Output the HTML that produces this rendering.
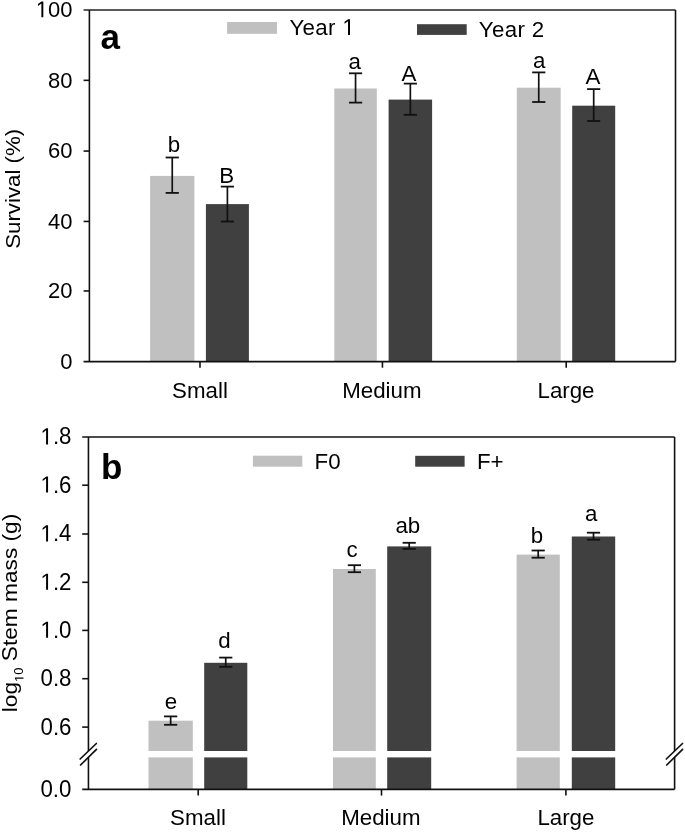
<!DOCTYPE html>
<html><head><meta charset="utf-8"><style>
html,body{margin:0;padding:0;background:#fff;}
svg{display:block;filter:grayscale(1) blur(0.3px);}
text{font-family:"Liberation Sans", sans-serif;fill:#000;}
</style></head><body>
<svg width="685" height="832" viewBox="0 0 685 832">
<rect width="685" height="832" fill="#fff"/>
<rect x="150.1" y="175.9" width="44.3" height="185.7" fill="#c0c0c0"/>
<rect x="205.9" y="204.1" width="43.0" height="157.5" fill="#404040"/>
<rect x="334.3" y="88.5" width="42.5" height="273.1" fill="#c0c0c0"/>
<rect x="388.6" y="99.6" width="43.5" height="262.0" fill="#404040"/>
<rect x="516.8" y="87.7" width="43.9" height="273.9" fill="#c0c0c0"/>
<rect x="572.2" y="105.7" width="43.0" height="255.9" fill="#404040"/>
<line x1="172.25" y1="157.5" x2="172.25" y2="192.9" stroke="#111" stroke-width="1.7" stroke-linecap="butt"/>
<line x1="165.65" y1="157.5" x2="178.85" y2="157.5" stroke="#111" stroke-width="1.8" stroke-linecap="butt"/>
<line x1="165.65" y1="192.9" x2="178.85" y2="192.9" stroke="#111" stroke-width="1.8" stroke-linecap="butt"/>
<line x1="227.4" y1="186.6" x2="227.4" y2="221.5" stroke="#111" stroke-width="1.7" stroke-linecap="butt"/>
<line x1="220.8" y1="186.6" x2="234.0" y2="186.6" stroke="#111" stroke-width="1.8" stroke-linecap="butt"/>
<line x1="220.8" y1="221.5" x2="234.0" y2="221.5" stroke="#111" stroke-width="1.8" stroke-linecap="butt"/>
<line x1="355.55" y1="73.3" x2="355.55" y2="102.6" stroke="#111" stroke-width="1.7" stroke-linecap="butt"/>
<line x1="348.95" y1="73.3" x2="362.15000000000003" y2="73.3" stroke="#111" stroke-width="1.8" stroke-linecap="butt"/>
<line x1="348.95" y1="102.6" x2="362.15000000000003" y2="102.6" stroke="#111" stroke-width="1.8" stroke-linecap="butt"/>
<line x1="410.35" y1="83.6" x2="410.35" y2="114.8" stroke="#111" stroke-width="1.7" stroke-linecap="butt"/>
<line x1="403.75" y1="83.6" x2="416.95000000000005" y2="83.6" stroke="#111" stroke-width="1.8" stroke-linecap="butt"/>
<line x1="403.75" y1="114.8" x2="416.95000000000005" y2="114.8" stroke="#111" stroke-width="1.8" stroke-linecap="butt"/>
<line x1="538.75" y1="72.4" x2="538.75" y2="102.0" stroke="#111" stroke-width="1.7" stroke-linecap="butt"/>
<line x1="532.15" y1="72.4" x2="545.35" y2="72.4" stroke="#111" stroke-width="1.8" stroke-linecap="butt"/>
<line x1="532.15" y1="102.0" x2="545.35" y2="102.0" stroke="#111" stroke-width="1.8" stroke-linecap="butt"/>
<line x1="593.7" y1="89.1" x2="593.7" y2="121.0" stroke="#111" stroke-width="1.7" stroke-linecap="butt"/>
<line x1="587.1" y1="89.1" x2="600.3000000000001" y2="89.1" stroke="#111" stroke-width="1.8" stroke-linecap="butt"/>
<line x1="587.1" y1="121.0" x2="600.3000000000001" y2="121.0" stroke="#111" stroke-width="1.8" stroke-linecap="butt"/>
<line x1="83.6" y1="10.0" x2="675.5" y2="10.0" stroke="#222" stroke-width="1.4" stroke-linecap="butt"/>
<line x1="675.5" y1="10.0" x2="675.5" y2="361.6" stroke="#111" stroke-width="1.6" stroke-linecap="butt"/>
<line x1="83.6" y1="361.6" x2="675.5" y2="361.6" stroke="#111" stroke-width="1.6" stroke-linecap="butt"/>
<line x1="89.4" y1="10.0" x2="89.4" y2="361.6" stroke="#111" stroke-width="1.6" stroke-linecap="butt"/>
<line x1="83.6" y1="290.96" x2="89.4" y2="290.96" stroke="#111" stroke-width="1.6" stroke-linecap="butt"/>
<line x1="83.6" y1="221.44" x2="89.4" y2="221.44" stroke="#111" stroke-width="1.6" stroke-linecap="butt"/>
<line x1="83.6" y1="151.06" x2="89.4" y2="151.06" stroke="#111" stroke-width="1.6" stroke-linecap="butt"/>
<line x1="83.6" y1="80.34" x2="89.4" y2="80.34" stroke="#111" stroke-width="1.6" stroke-linecap="butt"/>
<line x1="200.0" y1="361.6" x2="200.0" y2="367.7" stroke="#111" stroke-width="1.6" stroke-linecap="butt"/>
<line x1="382.45" y1="361.6" x2="382.45" y2="367.7" stroke="#111" stroke-width="1.6" stroke-linecap="butt"/>
<line x1="566.2" y1="361.6" x2="566.2" y2="367.7" stroke="#111" stroke-width="1.6" stroke-linecap="butt"/>
<g transform="translate(72.6,368.9)"><text id="t1" x="0" y="0" text-anchor="end" font-size="22.0" font-weight="normal" ><tspan fill="transparent">0</tspan></text><text transform="translate(-12.25,0.00) scale(1,1.04)" font-size="22" aria-hidden="true">0</text></g>
<g transform="translate(72.6,298.26)"><text id="t2" x="0" y="0" text-anchor="end" font-size="22.0" font-weight="normal" ><tspan fill="transparent">2</tspan><tspan fill="transparent">0</tspan></text><text transform="translate(-24.50,0.00) scale(1,1.04)" font-size="22" aria-hidden="true">2</text><text transform="translate(-12.25,0.00) scale(1,1.04)" font-size="22" aria-hidden="true">0</text></g>
<g transform="translate(72.6,228.74)"><text id="t3" x="0" y="0" text-anchor="end" font-size="22.0" font-weight="normal" ><tspan fill="transparent">4</tspan><tspan fill="transparent">0</tspan></text><text transform="translate(-24.50,0.00) scale(1,1.04)" font-size="22" aria-hidden="true">4</text><text transform="translate(-12.25,0.00) scale(1,1.04)" font-size="22" aria-hidden="true">0</text></g>
<g transform="translate(72.6,158.36)"><text id="t4" x="0" y="0" text-anchor="end" font-size="22.0" font-weight="normal" ><tspan fill="transparent">6</tspan><tspan fill="transparent">0</tspan></text><text transform="translate(-24.50,0.00) scale(1,1.04)" font-size="22" aria-hidden="true">6</text><text transform="translate(-12.25,0.00) scale(1,1.04)" font-size="22" aria-hidden="true">0</text></g>
<g transform="translate(72.6,87.64)"><text id="t5" x="0" y="0" text-anchor="end" font-size="22.0" font-weight="normal" ><tspan fill="transparent">8</tspan><tspan fill="transparent">0</tspan></text><text transform="translate(-24.50,0.00) scale(1,1.04)" font-size="22" aria-hidden="true">8</text><text transform="translate(-12.25,0.00) scale(1,1.04)" font-size="22" aria-hidden="true">0</text></g>
<g transform="translate(72.6,17.3)"><text id="t6" x="0" y="0" text-anchor="end" font-size="22.0" font-weight="normal" ><tspan fill="transparent">1</tspan><tspan fill="transparent">0</tspan><tspan fill="transparent">0</tspan></text><path d="M515 0V1237L197 1010V1180L530 1409H696V0Z" transform="translate(-36.75,0.00) scale(0.01074,-0.01117)"/><text transform="translate(-24.50,0.00) scale(1,1.04)" font-size="22" aria-hidden="true">0</text><text transform="translate(-12.25,0.00) scale(1,1.04)" font-size="22" aria-hidden="true">0</text></g>
<g transform="translate(200.0,397.6)"><text id="t7" x="0" y="0" text-anchor="middle" font-size="22.3" font-weight="normal" ><tspan fill="transparent">S</tspan>mall</text><text transform="translate(-27.88,0.00) scale(1,1.025)" font-size="22.3" aria-hidden="true">S</text></g>
<g transform="translate(381.9,397.6)"><text id="t8" x="0" y="0" text-anchor="middle" font-size="22.3" font-weight="normal" ><tspan fill="transparent">M</tspan>edium</text><text transform="translate(-39.66,0.00) scale(1,1.025)" font-size="22.3" aria-hidden="true">M</text></g>
<g transform="translate(566.0,397.6)"><text id="t9" x="0" y="0" text-anchor="middle" font-size="22.3" font-weight="normal" ><tspan fill="transparent">L</tspan>arge</text><text transform="translate(-28.52,0.00) scale(1,1.025)" font-size="22.3" aria-hidden="true">L</text></g>
<g transform="translate(20.3,188.8) rotate(-90) scale(1,0.92)"><text id="t10" x="0" y="0" text-anchor="middle" font-size="22.3" font-weight="normal" ><tspan fill="transparent">S</tspan>urvival (%)</text><text transform="translate(-60.05,0.00) scale(1,1.025)" font-size="22.3" aria-hidden="true">S</text></g>
<g transform="translate(100.6,48.6)"><text id="t11" x="0" y="0" text-anchor="start" font-size="35" font-weight="bold" >a</text></g>
<rect x="227.1" y="22.0" width="49.9" height="11.8" fill="#c0c0c0"/>
<g transform="translate(289.4,35.0)"><text id="t12" x="0" y="0" text-anchor="start" font-size="22.3" font-weight="normal" letter-spacing="0.35"><tspan fill="transparent">Y</tspan>ear <tspan fill="transparent">1</tspan></text><text transform="translate(0.00,0.00) scale(1,1.025)" font-size="22.3" aria-hidden="true">Y</text><path d="M515 0V1237L197 1010V1180L530 1409H696V0Z" transform="translate(53.02,0.00) scale(0.01089,-0.01116)"/></g>
<rect x="417.0" y="24.2" width="49.7" height="10.7" fill="#404040"/>
<g transform="translate(478.7,37.0)"><text id="t13" x="0" y="0" text-anchor="start" font-size="22.3" font-weight="normal" letter-spacing="0.35"><tspan fill="transparent">Y</tspan>ear <tspan fill="transparent">2</tspan></text><text transform="translate(0.00,0.00) scale(1,1.025)" font-size="22.3" aria-hidden="true">Y</text><text transform="translate(53.02,0.00) scale(1,1.025)" font-size="22.3" aria-hidden="true">2</text></g>
<g transform="translate(174.0,151.6)"><text id="t14" x="0" y="0" text-anchor="middle" font-size="22.3" font-weight="normal" >b</text></g>
<g transform="translate(226.7,182.8)"><text id="t15" x="0" y="0" text-anchor="middle" font-size="22.3" font-weight="normal" ><tspan fill="transparent">B</tspan></text><text transform="translate(-7.44,0.00) scale(1,1.025)" font-size="22.3" aria-hidden="true">B</text></g>
<g transform="translate(354.6,69.0)"><text id="t16" x="0" y="0" text-anchor="middle" font-size="22.3" font-weight="normal" >a</text></g>
<g transform="translate(409.0,81.0)"><text id="t17" x="0" y="0" text-anchor="middle" font-size="22.3" font-weight="normal" ><tspan fill="transparent">A</tspan></text><text transform="translate(-7.44,0.00) scale(1,1.025)" font-size="22.3" aria-hidden="true">A</text></g>
<g transform="translate(539.3,67.5)"><text id="t18" x="0" y="0" text-anchor="middle" font-size="22.3" font-weight="normal" >a</text></g>
<g transform="translate(593.0,84.0)"><text id="t19" x="0" y="0" text-anchor="middle" font-size="22.3" font-weight="normal" ><tspan fill="transparent">A</tspan></text><text transform="translate(-7.44,0.00) scale(1,1.025)" font-size="22.3" aria-hidden="true">A</text></g>
<rect x="148.5" y="720.7" width="44.3" height="30.3" fill="#c0c0c0"/>
<rect x="148.5" y="757.4" width="44.3" height="32.0" fill="#c0c0c0"/>
<rect x="204.2" y="662.8" width="43.1" height="88.2" fill="#404040"/>
<rect x="204.2" y="757.4" width="43.1" height="32.0" fill="#404040"/>
<rect x="333.0" y="569.0" width="42.8" height="182.0" fill="#c0c0c0"/>
<rect x="333.0" y="757.4" width="42.8" height="32.0" fill="#c0c0c0"/>
<rect x="387.2" y="546.4" width="44.0" height="204.6" fill="#404040"/>
<rect x="387.2" y="757.4" width="44.0" height="32.0" fill="#404040"/>
<rect x="516.6" y="554.6" width="43.2" height="196.4" fill="#c0c0c0"/>
<rect x="516.6" y="757.4" width="43.2" height="32.0" fill="#c0c0c0"/>
<rect x="571.8" y="536.5" width="43.4" height="214.5" fill="#404040"/>
<rect x="571.8" y="757.4" width="43.4" height="32.0" fill="#404040"/>
<line x1="170.65" y1="716.4" x2="170.65" y2="724.8" stroke="#111" stroke-width="1.7" stroke-linecap="butt"/>
<line x1="164.05" y1="716.4" x2="177.25" y2="716.4" stroke="#111" stroke-width="1.8" stroke-linecap="butt"/>
<line x1="164.05" y1="724.8" x2="177.25" y2="724.8" stroke="#111" stroke-width="1.8" stroke-linecap="butt"/>
<line x1="225.75" y1="657.6" x2="225.75" y2="666.8" stroke="#111" stroke-width="1.7" stroke-linecap="butt"/>
<line x1="219.15" y1="657.6" x2="232.35" y2="657.6" stroke="#111" stroke-width="1.8" stroke-linecap="butt"/>
<line x1="219.15" y1="666.8" x2="232.35" y2="666.8" stroke="#111" stroke-width="1.8" stroke-linecap="butt"/>
<line x1="354.4" y1="565.2" x2="354.4" y2="572.2" stroke="#111" stroke-width="1.7" stroke-linecap="butt"/>
<line x1="347.79999999999995" y1="565.2" x2="361.0" y2="565.2" stroke="#111" stroke-width="1.8" stroke-linecap="butt"/>
<line x1="347.79999999999995" y1="572.2" x2="361.0" y2="572.2" stroke="#111" stroke-width="1.8" stroke-linecap="butt"/>
<line x1="409.2" y1="542.8" x2="409.2" y2="548.9" stroke="#111" stroke-width="1.7" stroke-linecap="butt"/>
<line x1="402.59999999999997" y1="542.8" x2="415.8" y2="542.8" stroke="#111" stroke-width="1.8" stroke-linecap="butt"/>
<line x1="402.59999999999997" y1="548.9" x2="415.8" y2="548.9" stroke="#111" stroke-width="1.8" stroke-linecap="butt"/>
<line x1="538.2" y1="550.5" x2="538.2" y2="557.7" stroke="#111" stroke-width="1.7" stroke-linecap="butt"/>
<line x1="531.6" y1="550.5" x2="544.8000000000001" y2="550.5" stroke="#111" stroke-width="1.8" stroke-linecap="butt"/>
<line x1="531.6" y1="557.7" x2="544.8000000000001" y2="557.7" stroke="#111" stroke-width="1.8" stroke-linecap="butt"/>
<line x1="593.5" y1="532.7" x2="593.5" y2="539.7" stroke="#111" stroke-width="1.7" stroke-linecap="butt"/>
<line x1="586.9" y1="532.7" x2="600.1" y2="532.7" stroke="#111" stroke-width="1.8" stroke-linecap="butt"/>
<line x1="586.9" y1="539.7" x2="600.1" y2="539.7" stroke="#111" stroke-width="1.8" stroke-linecap="butt"/>
<line x1="82.2" y1="437.0" x2="674.6" y2="437.0" stroke="#111" stroke-width="1.6" stroke-linecap="butt"/>
<line x1="82.2" y1="789.4" x2="674.6" y2="789.4" stroke="#111" stroke-width="1.6" stroke-linecap="butt"/>
<line x1="88.45" y1="437.0" x2="88.45" y2="751.0" stroke="#111" stroke-width="1.6" stroke-linecap="butt"/>
<line x1="88.45" y1="757.4" x2="88.45" y2="789.4" stroke="#111" stroke-width="1.6" stroke-linecap="butt"/>
<line x1="674.6" y1="437.0" x2="674.6" y2="751.0" stroke="#111" stroke-width="1.6" stroke-linecap="butt"/>
<line x1="674.6" y1="757.4" x2="674.6" y2="789.4" stroke="#111" stroke-width="1.6" stroke-linecap="butt"/>
<line x1="80.15" y1="759.0" x2="96.35" y2="743.5" stroke="#111" stroke-width="1.7" stroke-linecap="round"/>
<line x1="80.55" y1="765.0" x2="96.45" y2="749.3" stroke="#111" stroke-width="1.7" stroke-linecap="round"/>
<line x1="666.3" y1="759.0" x2="682.5" y2="743.5" stroke="#111" stroke-width="1.7" stroke-linecap="round"/>
<line x1="666.7" y1="765.0" x2="682.6" y2="749.3" stroke="#111" stroke-width="1.7" stroke-linecap="round"/>
<line x1="82.2" y1="485.2" x2="88.45" y2="485.2" stroke="#111" stroke-width="1.6" stroke-linecap="butt"/>
<line x1="82.2" y1="534.0" x2="88.45" y2="534.0" stroke="#111" stroke-width="1.6" stroke-linecap="butt"/>
<line x1="82.2" y1="582.3" x2="88.45" y2="582.3" stroke="#111" stroke-width="1.6" stroke-linecap="butt"/>
<line x1="82.2" y1="630.4" x2="88.45" y2="630.4" stroke="#111" stroke-width="1.6" stroke-linecap="butt"/>
<line x1="82.2" y1="678.7" x2="88.45" y2="678.7" stroke="#111" stroke-width="1.6" stroke-linecap="butt"/>
<line x1="82.2" y1="727.1" x2="88.45" y2="727.1" stroke="#111" stroke-width="1.6" stroke-linecap="butt"/>
<line x1="198.2" y1="789.4" x2="198.2" y2="795.6" stroke="#111" stroke-width="1.6" stroke-linecap="butt"/>
<line x1="381.5" y1="789.4" x2="381.5" y2="795.6" stroke="#111" stroke-width="1.6" stroke-linecap="butt"/>
<line x1="565.9" y1="789.4" x2="565.9" y2="795.6" stroke="#111" stroke-width="1.6" stroke-linecap="butt"/>
<g transform="translate(71.5,444.4)"><text id="t20" x="0" y="0" text-anchor="end" font-size="22.3" font-weight="normal" ><tspan fill="transparent">1</tspan>.<tspan fill="transparent">8</tspan></text><path d="M515 0V1237L197 1010V1180L530 1409H696V0Z" transform="translate(-31.02,0.00) scale(0.01089,-0.01138)"/><text transform="translate(-12.41,0.00) scale(1,1.045)" font-size="22.3" aria-hidden="true">8</text></g>
<g transform="translate(71.5,492.6)"><text id="t21" x="0" y="0" text-anchor="end" font-size="22.3" font-weight="normal" ><tspan fill="transparent">1</tspan>.<tspan fill="transparent">6</tspan></text><path d="M515 0V1237L197 1010V1180L530 1409H696V0Z" transform="translate(-31.02,0.00) scale(0.01089,-0.01138)"/><text transform="translate(-12.41,0.00) scale(1,1.045)" font-size="22.3" aria-hidden="true">6</text></g>
<g transform="translate(71.5,541.4)"><text id="t22" x="0" y="0" text-anchor="end" font-size="22.3" font-weight="normal" ><tspan fill="transparent">1</tspan>.<tspan fill="transparent">4</tspan></text><path d="M515 0V1237L197 1010V1180L530 1409H696V0Z" transform="translate(-31.02,0.00) scale(0.01089,-0.01138)"/><text transform="translate(-12.41,0.00) scale(1,1.045)" font-size="22.3" aria-hidden="true">4</text></g>
<g transform="translate(71.5,589.7)"><text id="t23" x="0" y="0" text-anchor="end" font-size="22.3" font-weight="normal" ><tspan fill="transparent">1</tspan>.<tspan fill="transparent">2</tspan></text><path d="M515 0V1237L197 1010V1180L530 1409H696V0Z" transform="translate(-31.02,0.00) scale(0.01089,-0.01138)"/><text transform="translate(-12.41,0.00) scale(1,1.045)" font-size="22.3" aria-hidden="true">2</text></g>
<g transform="translate(71.5,637.8)"><text id="t24" x="0" y="0" text-anchor="end" font-size="22.3" font-weight="normal" ><tspan fill="transparent">1</tspan>.<tspan fill="transparent">0</tspan></text><path d="M515 0V1237L197 1010V1180L530 1409H696V0Z" transform="translate(-31.02,0.00) scale(0.01089,-0.01138)"/><text transform="translate(-12.41,0.00) scale(1,1.045)" font-size="22.3" aria-hidden="true">0</text></g>
<g transform="translate(71.5,686.1)"><text id="t25" x="0" y="0" text-anchor="end" font-size="22.3" font-weight="normal" ><tspan fill="transparent">0</tspan>.<tspan fill="transparent">8</tspan></text><text transform="translate(-31.02,0.00) scale(1,1.045)" font-size="22.3" aria-hidden="true">0</text><text transform="translate(-12.41,0.00) scale(1,1.045)" font-size="22.3" aria-hidden="true">8</text></g>
<g transform="translate(71.5,734.5)"><text id="t26" x="0" y="0" text-anchor="end" font-size="22.3" font-weight="normal" ><tspan fill="transparent">0</tspan>.<tspan fill="transparent">6</tspan></text><text transform="translate(-31.02,0.00) scale(1,1.045)" font-size="22.3" aria-hidden="true">0</text><text transform="translate(-12.41,0.00) scale(1,1.045)" font-size="22.3" aria-hidden="true">6</text></g>
<g transform="translate(71.4,796.8)"><text id="t27" x="0" y="0" text-anchor="end" font-size="22.3" font-weight="normal" ><tspan fill="transparent">0</tspan>.<tspan fill="transparent">0</tspan></text><text transform="translate(-31.02,0.00) scale(1,1.045)" font-size="22.3" aria-hidden="true">0</text><text transform="translate(-12.41,0.00) scale(1,1.045)" font-size="22.3" aria-hidden="true">0</text></g>
<g transform="translate(198.0,825.3)"><text id="t28" x="0" y="0" text-anchor="middle" font-size="22.3" font-weight="normal" ><tspan fill="transparent">S</tspan>mall</text><text transform="translate(-27.88,0.00) scale(1,1.025)" font-size="22.3" aria-hidden="true">S</text></g>
<g transform="translate(380.9,825.3)"><text id="t29" x="0" y="0" text-anchor="middle" font-size="22.3" font-weight="normal" ><tspan fill="transparent">M</tspan>edium</text><text transform="translate(-39.66,0.00) scale(1,1.025)" font-size="22.3" aria-hidden="true">M</text></g>
<g transform="translate(565.9,825.3)"><text id="t30" x="0" y="0" text-anchor="middle" font-size="22.3" font-weight="normal" ><tspan fill="transparent">L</tspan>arge</text><text transform="translate(-28.52,0.00) scale(1,1.025)" font-size="22.3" aria-hidden="true">L</text></g>
<g transform="translate(17.0,613.0) rotate(-90) scale(1,0.92)"><text id="t31" x="0" y="0" text-anchor="middle" font-size="22.7" font-weight="normal" >log<tspan font-size="13" dy="7"><tspan fill="transparent">1</tspan><tspan fill="transparent">0</tspan></tspan><tspan dy="-7"> <tspan fill="transparent">S</tspan>tem mass (g)</tspan></text><path d="M515 0V1237L197 1010V1180L530 1409H696V0Z" transform="translate(-69.00,7.00) scale(0.00635,-0.00651)"/><text transform="translate(-61.76,7.00) scale(1,1.025)" font-size="13" aria-hidden="true">0</text><text transform="translate(-48.22,0.00) scale(1,1.025)" font-size="22.7" aria-hidden="true">S</text></g>
<g transform="translate(100.9,478.5)"><text id="t32" x="0" y="0" text-anchor="start" font-size="35" font-weight="bold" >b</text></g>
<rect x="252.9" y="455.7" width="49.4" height="11.0" fill="#c0c0c0"/>
<g transform="translate(314.6,468.6)"><text id="t33" x="0" y="0" text-anchor="start" font-size="22.3" font-weight="normal" ><tspan fill="transparent">F</tspan><tspan fill="transparent">0</tspan></text><text transform="translate(0.00,0.00) scale(1,1.025)" font-size="22.3" aria-hidden="true">F</text><text transform="translate(13.62,0.00) scale(1,1.025)" font-size="22.3" aria-hidden="true">0</text></g>
<rect x="415.2" y="455.8" width="49.4" height="10.9" fill="#404040"/>
<g transform="translate(476.9,468.6)"><text id="t34" x="0" y="0" text-anchor="start" font-size="22.3" font-weight="normal" ><tspan fill="transparent">F</tspan>+</text><text transform="translate(0.00,0.00) scale(1,1.025)" font-size="22.3" aria-hidden="true">F</text></g>
<g transform="translate(171.0,708.5)"><text id="t35" x="0" y="0" text-anchor="middle" font-size="22.3" font-weight="normal" >e</text></g>
<g transform="translate(224.5,648.4)"><text id="t36" x="0" y="0" text-anchor="middle" font-size="22.3" font-weight="normal" >d</text></g>
<g transform="translate(352.0,557.2)"><text id="t37" x="0" y="0" text-anchor="middle" font-size="22.3" font-weight="normal" >c</text></g>
<g transform="translate(407.8,532.9)"><text id="t38" x="0" y="0" text-anchor="middle" font-size="22.3" font-weight="normal" >ab</text></g>
<g transform="translate(536.9,542.5)"><text id="t39" x="0" y="0" text-anchor="middle" font-size="22.3" font-weight="normal" >b</text></g>
<g transform="translate(591.2,521.1)"><text id="t40" x="0" y="0" text-anchor="middle" font-size="22.3" font-weight="normal" >a</text></g>
</svg>
</body></html>
